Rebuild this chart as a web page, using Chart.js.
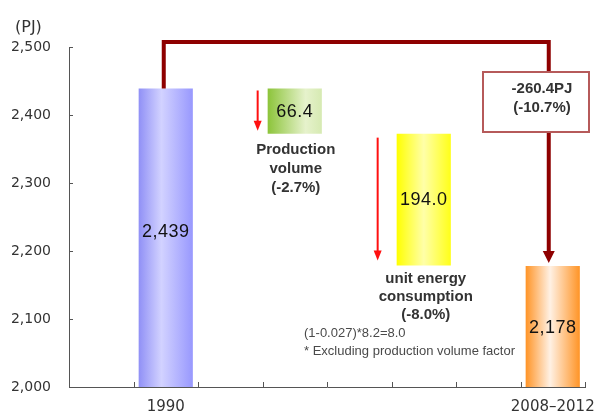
<!DOCTYPE html>
<html>
<head>
<meta charset="utf-8">
<script src="https://cdn.jsdelivr.net/npm/chart.js@4/dist/chart.umd.min.js"></script>
<style>
  body { margin: 0; background: #fff; }
</style>
</head>
<body>
<canvas id="energyChart" width="598" height="415"></canvas>
<script>
// slots along the x axis; only the two end bars carry a label
var categories = ['', '1990', '', '', '', '', '', '2008\u20132012'];
var baseYear = 2439;            // 1990 level (PJ)
var decreases = [66.4, 194.0];  // production volume, unit energy consumption
var periodAvg = 2178;           // 2008-2012 average (PJ)
var barSlots = [1, 3, 5, 7];
var valueLabels = ['2,439', '66.4', '194.0', '2,178'];
var yTicks = [2000, 2100, 2200, 2300, 2400, 2500];

// floating [low, high] pairs for the waterfall
var steps = [[2000, baseYear]];
var level = baseYear;
decreases.forEach(function (d) {
    steps.push([level - d, level]);
    level -= d;
});
steps.push([2000, periodAvg]);

var barData = categories.map(function () { return null; });
barSlots.forEach(function (slot, i) { barData[slot] = steps[i]; });

var BAR_PCT = 0.84;
var barGradients = [
    [[0, '#9090f6'], [0.42, '#d2d2ff'], [1, '#9898fe']],
    [[0, '#8cc43a'], [0.7, '#e6f2cc'], [1, '#d6eab2']],
    [[0, '#ffff00'], [0.5, '#ffffa8'], [1, '#ffff18']],
    [[0, '#ff9426'], [0.45, '#fff1e4'], [1, '#ff9426']]
];
// nudges for the in-bar value text
var labelShift = [-6, 1, 0, 2];

function barFill(ctx) {
    var chart = ctx.chart, xs = chart.scales.x;
    var i = barSlots.indexOf(ctx.dataIndex);
    if (i < 0 || !xs || !chart.chartArea) return '#cccccc';
    var half = xs.width / categories.length * BAR_PCT / 2;
    var cx = xs.getPixelForValue(ctx.dataIndex);
    var g = chart.ctx.createLinearGradient(cx - half, 0, cx + half, 0);
    barGradients[i].forEach(function (s) { g.addColorStop(s[0], s[1]); });
    return g;
}

function line(c, x1, y1, x2, y2) {
    c.beginPath();
    c.moveTo(x1, y1);
    c.lineTo(x2, y2);
    c.stroke();
}

function arrowDown(c, x, y1, y2, color, width, headW, headL) {
    c.strokeStyle = color;
    c.fillStyle = color;
    c.lineWidth = width;
    line(c, x, y1, x, y2 - headL + 1);
    c.beginPath();
    c.moveTo(x - headW / 2, y2 - headL);
    c.lineTo(x + headW / 2, y2 - headL);
    c.lineTo(x, y2);
    c.closePath();
    c.fill();
}

function textLines(c, lines, x, y, gap) {
    lines.forEach(function (t, k) { c.fillText(t, x, y + k * gap); });
}

var decor = {
    id: 'decor',
    afterDraw: function (chart) {
        var c = chart.ctx, xs = chart.scales.x, ys = chart.scales.y, a = chart.chartArea;
        var slotW = xs.width / categories.length;
        var half = slotW * BAR_PCT / 2;
        c.save();

        // tick marks pointing into the plot
        c.strokeStyle = '#555';
        c.lineWidth = 1;
        for (var k = 1; k <= categories.length; k++) {
            var tx = Math.round(a.left + k * slotW) + 0.5;
            line(c, tx, a.bottom, tx, a.bottom - 5);
        }
        yTicks.forEach(function (v) {
            var ty = Math.round(ys.getPixelForValue(v)) + 0.5;
            line(c, a.left, ty, a.left + 4, ty);
        });

        // unit label
        c.fillStyle = '#333';
        c.font = '16px "DejaVu Sans"';
        c.textAlign = 'left';
        c.textBaseline = 'middle';
        c.fillText('(PJ)', 15, 28);

        // value labels inside bars
        c.textAlign = 'center';
        c.fillStyle = '#111';
        c.font = '18px "Liberation Sans", Arial';
        c.letterSpacing = '0.5px';
        var meta = chart.getDatasetMeta(0);
        barSlots.forEach(function (slot, i) {
            var el = meta.data[slot];
            c.fillText(valueLabels[i], el.x, (el.y + el.base) / 2 + labelShift[i]);
        });
        c.letterSpacing = '0px';

        // connector from 1990 to the total-change box
        var x1 = xs.getPixelForValue(barSlots[0]) - 2;
        var x2 = xs.getPixelForValue(barSlots[3]) - 4;
        var topY = a.top - 5;
        var boxL = 483, boxT = 72, boxW = 106, boxH = 60;
        c.strokeStyle = '#8e0000';
        c.lineWidth = 4;
        c.lineJoin = 'miter';
        c.beginPath();
        c.moveTo(x1, ys.getPixelForValue(baseYear));
        c.lineTo(x1, topY);
        c.lineTo(x2, topY);
        c.lineTo(x2, boxT);
        c.stroke();
        arrowDown(c, x2, boxT + boxH, ys.getPixelForValue(periodAvg) - 3, '#8e0000', 4, 12, 12);

        c.fillStyle = '#fff';
        c.fillRect(boxL, boxT, boxW, boxH);
        c.strokeStyle = '#b65a5a';
        c.lineWidth = 2;
        c.strokeRect(boxL, boxT, boxW, boxH);
        c.fillStyle = '#333';
        c.font = 'bold 15px "Liberation Sans", Arial';
        var total = decreases.reduce(function (s, d) { return s + d; }, 0);
        textLines(c, ['-' + total.toFixed(1) + 'PJ', '(-10.7%)'], boxL + 59, boxT + 17, 19);

        // red arrows beside the two decrease bars
        var gTop = ys.getPixelForValue(steps[1][1]), gBot = ys.getPixelForValue(steps[1][0]);
        arrowDown(c, xs.getPixelForValue(barSlots[1]) - half - 10, gTop + 2, gBot - 3, '#ff1010', 2, 8, 10);
        var yTop = ys.getPixelForValue(steps[2][1]), yBot = ys.getPixelForValue(steps[2][0]);
        arrowDown(c, xs.getPixelForValue(barSlots[2]) - half - 19, yTop + 4, yBot - 5, '#ff1010', 2, 8, 10);

        // captions
        c.fillStyle = '#333';
        c.font = 'bold 15px "Liberation Sans", Arial';
        textLines(c, ['Production', 'volume', '(-2.7%)'], xs.getPixelForValue(barSlots[1]) + 1, gBot + 16, 19);
        textLines(c, ['unit energy', 'consumption', '(-8.0%)'], xs.getPixelForValue(barSlots[2]) + 2, yBot + 13, 18);

        c.textAlign = 'left';
        c.fillStyle = '#4a4a4a';
        c.font = '13px "Liberation Sans", Arial';
        textLines(c, ['(1-0.027)*8.2=8.0', '* Excluding production volume factor'], 304, 333, 18);

        c.restore();
    }
};

new Chart(document.getElementById('energyChart').getContext('2d'), {
    type: 'bar',
    data: {
        labels: categories,
        datasets: [{
            data: barData,
            backgroundColor: barFill,
            borderWidth: 0,
            barPercentage: BAR_PCT,
            categoryPercentage: 1
        }]
    },
    options: {
        responsive: false,
        animation: false,
        devicePixelRatio: 1,
        layout: { padding: { top: 47, right: 13, left: 0, bottom: 0 } },
        plugins: {
            legend: { display: false },
            tooltip: { enabled: false }
        },
        scales: {
            x: {
                grid: { display: false, drawTicks: false },
                border: { display: true, color: '#555', width: 1 },
                ticks: {
                    color: '#333',
                    font: { family: 'DejaVu Sans', size: 15 },
                    padding: 11,
                    autoSkip: false,
                    maxRotation: 0
                },
                afterFit: function (s) {
                    s.height = 28;
                    s.paddingLeft = 0;
                    s.paddingRight = 0;
                }
            },
            y: {
                min: 2000,
                max: 2500,
                grid: { display: false, drawTicks: false },
                border: { display: true, color: '#555', width: 1 },
                ticks: {
                    stepSize: 100,
                    color: '#333',
                    font: { family: 'DejaVu Sans', size: 14 },
                    padding: 18,
                    callback: function (v) { return v.toLocaleString('en-US'); }
                },
                afterFit: function (s) { s.width = 69; }
            }
        }
    },
    plugins: [decor]
});
</script>
</body>
</html>
